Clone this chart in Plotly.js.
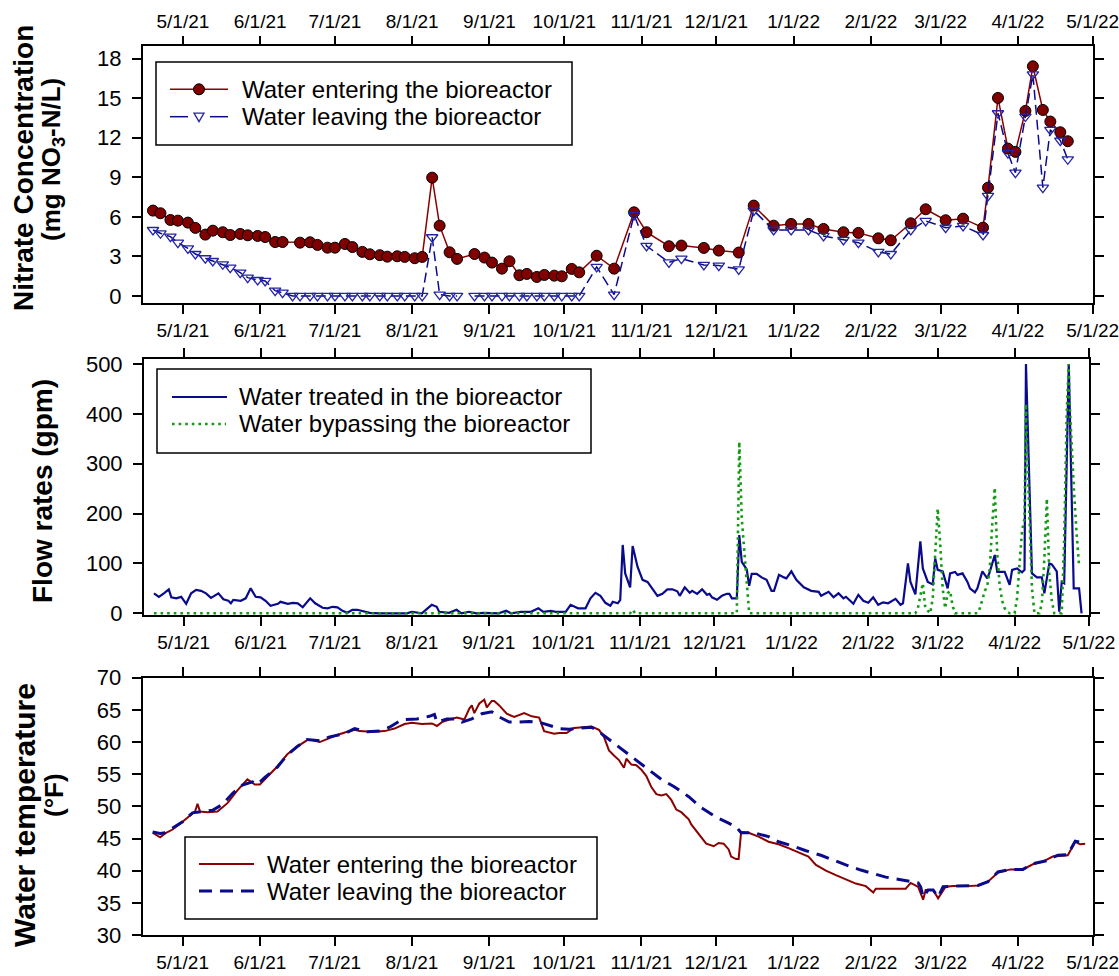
<!DOCTYPE html>
<html><head><meta charset="utf-8">
<script src="https://cdn.plot.ly/plotly-3.0.1.min.js"></script>
<style>html,body{margin:0;padding:0;background:#fff}</style>
</head><body><div id="chart" style="width:1119px;height:976px"></div>
<script>
// ---------- Panel 1: nitrate concentration (mg NO3-N/L) ----------
const nitrateInDates = ['2021-04-19','2021-04-22','2021-04-26','2021-04-29','2021-05-03','2021-05-06','2021-05-10','2021-05-13','2021-05-17','2021-05-20','2021-05-24','2021-05-27','2021-05-31','2021-06-03','2021-06-07','2021-06-10','2021-06-17','2021-06-21','2021-06-24','2021-06-28','2021-07-01','2021-07-05','2021-07-08','2021-07-12','2021-07-15','2021-07-19','2021-07-22','2021-07-26','2021-07-29','2021-08-02','2021-08-05','2021-08-09','2021-08-12','2021-08-16','2021-08-19','2021-08-26','2021-08-30','2021-09-02','2021-09-06','2021-09-09','2021-09-13','2021-09-16','2021-09-20','2021-09-23','2021-09-27','2021-09-30','2021-10-04','2021-10-07','2021-10-14','2021-10-21','2021-10-29','2021-11-03','2021-11-12','2021-11-17','2021-11-26','2021-12-02','2021-12-10','2021-12-16','2021-12-24','2021-12-31','2022-01-07','2022-01-13','2022-01-21','2022-01-27','2022-02-04','2022-02-09','2022-02-17','2022-02-23','2022-03-03','2022-03-10','2022-03-18','2022-03-20','2022-03-24','2022-03-28','2022-03-31','2022-04-04','2022-04-07','2022-04-11','2022-04-14','2022-04-18','2022-04-21'];
const nitrateIn = [6.47,6.27,5.76,5.71,5.56,5.16,4.65,4.95,4.83,4.62,4.70,4.60,4.55,4.47,4.09,4.09,4.04,4.07,3.87,3.66,3.66,3.94,3.71,3.34,3.16,3.09,2.98,3.01,2.96,2.86,2.96,8.97,5.33,3.31,2.81,3.18,2.91,2.53,2.07,2.63,1.57,1.67,1.44,1.59,1.54,1.49,2.05,1.79,3.05,2.07,6.34,4.83,3.77,3.82,3.64,3.44,3.29,6.85,5.33,5.46,5.46,5.08,4.83,4.78,4.37,4.22,5.51,6.57,5.74,5.86,5.18,8.21,15.01,11.17,10.92,14.03,17.41,14.10,13.22,12.41,11.73];

const nitrateOutDates = ['2021-04-19','2021-04-22','2021-04-26','2021-04-29','2021-05-03','2021-05-06','2021-05-10','2021-05-13','2021-05-17','2021-05-20','2021-05-24','2021-05-27','2021-05-31','2021-06-03','2021-06-07','2021-06-10','2021-06-14','2021-06-17','2021-06-21','2021-06-24','2021-06-28','2021-07-01','2021-07-05','2021-07-08','2021-07-12','2021-07-15','2021-07-19','2021-07-22','2021-07-26','2021-07-29','2021-08-02','2021-08-05','2021-08-09','2021-08-12','2021-08-16','2021-08-19','2021-08-23','2021-08-26','2021-08-30','2021-09-02','2021-09-06','2021-09-09','2021-09-13','2021-09-16','2021-09-20','2021-09-23','2021-09-27','2021-09-30','2021-10-04','2021-10-07','2021-10-14','2021-10-21','2021-10-29','2021-11-03','2021-11-12','2021-11-17','2021-11-26','2021-12-02','2021-12-10','2021-12-16','2021-12-24','2021-12-31','2022-01-07','2022-01-13','2022-01-21','2022-01-27','2022-02-04','2022-02-09','2022-02-17','2022-02-23','2022-03-03','2022-03-10','2022-03-18','2022-03-20','2022-03-24','2022-03-28','2022-03-31','2022-04-04','2022-04-07','2022-04-11','2022-04-14','2022-04-18','2022-04-21'];
const nitrateOut = [5.00,4.75,4.50,4.04,3.61,3.18,2.86,2.65,2.40,2.15,1.77,1.39,1.21,1.14,0.40,0.25,0,0,0,0,0,0,0,0,0,0,0,0,0,0,0,0,4.45,0.10,0,0,null,0,0,0,0,0,0,0,0,0,0,0,0,0,2.20,0.10,6.14,3.79,2.55,2.83,2.35,2.30,2.02,6.47,5.00,5.00,5.00,4.55,4.25,4.04,3.34,3.18,5.00,5.69,5.18,5.31,4.62,7.58,13.85,10.82,9.35,13.60,16.80,8.21,12.59,11.78,10.36];

// ---------- Panel 2: flow rates (gpm) ----------
const treatedDates = ['2021-04-19','2021-04-21','2021-04-23','2021-04-25','2021-04-26','2021-04-28','2021-04-30','2021-05-02','2021-05-04','2021-05-06','2021-05-08','2021-05-10','2021-05-12','2021-05-15','2021-05-17','2021-05-19','2021-05-20','2021-05-21','2021-05-24','2021-05-26','2021-05-28','2021-05-30','2021-06-01','2021-06-03','2021-06-05','2021-06-08','2021-06-09','2021-06-12','2021-06-14','2021-06-16','2021-06-18','2021-06-21','2021-06-23','2021-06-26','2021-06-28','2021-06-30','2021-07-02','2021-07-04','2021-07-06','2021-07-08','2021-07-10','2021-07-12','2021-07-15','2021-07-19','2021-07-24','2021-07-30','2021-08-01','2021-08-05','2021-08-09','2021-08-11','2021-08-12','2021-08-16','2021-08-19','2021-08-21','2021-08-24','2021-08-27','2021-08-30','2021-09-03','2021-09-05','2021-09-08','2021-09-10','2021-09-14','2021-09-18','2021-09-21','2021-09-23','2021-09-26','2021-09-28','2021-10-02','2021-10-04','2021-10-07','2021-10-10','2021-10-12','2021-10-14','2021-10-16','2021-10-18','2021-10-20','2021-10-21','2021-10-23','2021-10-24','2021-10-25','2021-10-26','2021-10-28','2021-10-29','2021-10-31','2021-11-02','2021-11-04','2021-11-06','2021-11-08','2021-11-10','2021-11-12','2021-11-14','2021-11-16','2021-11-17','2021-11-19','2021-11-21','2021-11-22','2021-11-24','2021-11-26','2021-11-28','2021-11-29','2021-11-30','2021-12-02','2021-12-04','2021-12-06','2021-12-07','2021-12-08','2021-12-10','2021-12-11','2021-12-12','2021-12-13','2021-12-14','2021-12-15','2021-12-16','2021-12-18','2021-12-20','2021-12-22','2021-12-24','2021-12-25','2021-12-27','2021-12-29','2021-12-30','2022-01-01','2022-01-03','2022-01-06','2022-01-09','2022-01-12','2022-01-13','2022-01-16','2022-01-18','2022-01-20','2022-01-22','2022-01-23','2022-01-26','2022-01-28','2022-01-30','2022-02-01','2022-02-03','2022-02-05','2022-02-07','2022-02-09','2022-02-12','2022-02-14','2022-02-15','2022-02-17','2022-02-18','2022-02-20','2022-02-22','2022-02-23','2022-02-25','2022-02-27','2022-02-28','2022-03-01','2022-03-03','2022-03-05','2022-03-06','2022-03-08','2022-03-09','2022-03-11','2022-03-13','2022-03-14','2022-03-16','2022-03-17','2022-03-19','2022-03-21','2022-03-22','2022-03-24','2022-03-25','2022-03-27','2022-03-28','2022-03-30','2022-03-31','2022-04-02','2022-04-04','2022-04-05','2022-04-05 14:00','2022-04-08','2022-04-10','2022-04-12','2022-04-13','2022-04-15','2022-04-16','2022-04-18','2022-04-19','2022-04-20','2022-04-21','2022-04-22 20:00','2022-04-24 20:00','2022-04-26','2022-04-27','2022-04-28'];
const treatedFlow = [40,33,40,48,32,30,33,19,40,47,45,40,31,40,28,25,20,27,25,30,50,33,32,25,15,19,23,19,21,20,12,30,20,11,10,13,12,5,1,7,7,5,1,0,0,0,3,0,17,13,3,1,7,0,3,0,1,0,0,5,0,3,3,10,3,5,3,3,17,10,10,30,41,35,21,15,23,20,27,137,80,52,135,93,67,63,50,35,39,48,48,44,35,52,41,45,39,48,37,39,32,27,35,39,39,30,30,157,103,94,88,55,79,79,72,67,45,45,77,72,70,84,67,52,45,43,35,43,32,40,30,33,19,37,25,21,32,17,22,20,29,17,20,100,63,38,144,90,63,58,110,87,84,50,80,83,77,80,63,50,42,50,84,70,83,117,83,83,83,57,87,90,82,87,500,80,72,72,40,100,98,84,3,63,60,500,50,50,50,0];

const bypassDates = ['2021-04-19','2021-10-28','2021-10-29','2021-10-30','2021-12-10','2021-12-11','2021-12-12','2021-12-13','2021-12-14','2021-12-15','2022-02-20','2022-02-21','2022-02-22','2022-02-23','2022-02-24','2022-02-26','2022-02-27','2022-02-28','2022-03-01','2022-03-02','2022-03-03','2022-03-04','2022-03-05','2022-03-06','2022-03-07','2022-03-08','2022-03-17','2022-03-18','2022-03-19','2022-03-20','2022-03-21','2022-03-22','2022-03-23','2022-03-24','2022-03-25','2022-03-26','2022-03-27','2022-03-28','2022-03-29','2022-03-30','2022-04-01','2022-04-02','2022-04-03','2022-04-04','2022-04-05','2022-04-05 14:00','2022-04-06','2022-04-07','2022-04-08','2022-04-09','2022-04-11','2022-04-12','2022-04-13','2022-04-14','2022-04-15','2022-04-16','2022-04-17','2022-04-20','2022-04-21','2022-04-22','2022-04-22 20:00','2022-04-23','2022-04-24','2022-04-25','2022-04-26','2022-04-27'];
const bypassFlow = [0,0,7,0,0,344,190,120,55,0,0,10,35,60,10,0,30,110,210,140,50,10,40,45,15,0,0,10,30,45,55,90,180,252,120,55,25,10,3,0,0,30,100,165,190,420,330,184,50,0,0,20,110,230,80,25,0,0,150,400,500,440,330,240,160,95];

// ---------- Panel 3: water temperature (°F) ----------
const tempInDates = ['2021-04-19','2021-04-22','2021-04-24','2021-04-27','2021-04-30','2021-05-02','2021-05-05','2021-05-06','2021-05-07','2021-05-08','2021-05-11','2021-05-15','2021-05-19','2021-05-23','2021-05-27','2021-05-30','2021-06-01','2021-06-04','2021-06-08','2021-06-12','2021-06-16','2021-06-20','2021-06-22','2021-06-25','2021-06-28','2021-07-02','2021-07-06','2021-07-09','2021-07-11','2021-07-16','2021-07-21','2021-07-25','2021-07-29','2021-08-01','2021-08-05','2021-08-09','2021-08-11','2021-08-13','2021-08-16','2021-08-19','2021-08-22','2021-08-24','2021-08-25','2021-08-26','2021-08-28','2021-08-30','2021-08-31','2021-09-02','2021-09-03','2021-09-05','2021-09-08','2021-09-11','2021-09-15','2021-09-18','2021-09-21','2021-09-23','2021-09-27','2021-09-29','2021-10-02','2021-10-05','2021-10-12','2021-10-15','2021-10-17','2021-10-19','2021-10-21','2021-10-23','2021-10-25','2021-10-26','2021-10-28','2021-10-30','2021-11-01','2021-11-03','2021-11-05','2021-11-07','2021-11-09','2021-11-11','2021-11-13','2021-11-15','2021-11-17','2021-11-20','2021-11-21','2021-11-23','2021-11-25','2021-11-27','2021-11-30','2021-12-02','2021-12-04','2021-12-06','2021-12-07','2021-12-09','2021-12-10','2021-12-11','2021-12-14','2021-12-18','2021-12-22','2021-12-26','2021-12-30','2022-01-03','2022-01-07','2022-01-10','2022-01-14','2022-01-18','2022-01-22','2022-01-26','2022-01-30','2022-02-02','2022-02-03','2022-02-07','2022-02-11','2022-02-15','2022-02-17','2022-02-20','2022-02-22','2022-02-23','2022-02-26','2022-02-28','2022-03-03','2022-03-06','2022-03-12','2022-03-16','2022-03-20','2022-03-24','2022-03-29','2022-04-03','2022-04-07','2022-04-11','2022-04-15','2022-04-21','2022-04-24','2022-04-26','2022-04-28'];
const tempIn = [45.9,45.2,45.8,46.4,47.3,48.0,48.9,49.2,50.4,49.2,49.1,49.2,50.5,52.5,54.2,53.4,53.4,54.6,56.2,58.1,59.3,60.3,60.3,60.0,60.5,61.1,61.6,61.9,61.7,61.6,61.7,62.1,62.8,63.0,62.8,62.9,62.5,63.1,63.5,63.8,63.5,65.2,65.7,64.5,66.0,66.6,65.4,66.4,66.4,65.7,64.4,63.9,64.5,64.0,63.8,61.7,61.3,61.4,61.4,62.2,62.4,61.9,60.8,58.7,57.9,57.2,56.0,57.4,56.5,56.4,55.7,54.7,53.0,51.9,51.7,51.9,51.0,49.5,49.1,48.0,47.2,46.2,45.3,44.2,43.8,44.3,44.2,43.3,42.2,41.8,41.8,46.0,45.9,45.3,44.5,44.1,43.5,42.9,42.2,40.9,40.0,39.3,38.6,38.0,37.6,36.6,37.2,37.2,37.2,37.2,38.1,37.5,35.5,37.0,37.0,35.7,37.5,37.6,37.6,37.7,38.3,39.7,40.2,40.2,41.0,41.4,42.2,42.4,44.5,44.1,44.2];

const tempOutDates = ['2021-04-19','2021-04-22','2021-04-24','2021-04-27','2021-05-01','2021-05-05','2021-05-09','2021-05-13','2021-05-17','2021-05-21','2021-05-25','2021-05-29','2021-05-31','2021-06-03','2021-06-08','2021-06-12','2021-06-16','2021-06-20','2021-06-25','2021-06-29','2021-07-05','2021-07-09','2021-07-14','2021-07-19','2021-07-23','2021-07-28','2021-08-03','2021-08-08','2021-08-10','2021-08-11','2021-08-15','2021-08-18','2021-08-21','2021-08-25','2021-08-29','2021-09-02','2021-09-05','2021-09-09','2021-09-13','2021-09-17','2021-09-21','2021-09-25','2021-09-29','2021-10-03','2021-10-07','2021-10-12','2021-10-15','2021-10-21','2021-10-27','2021-10-31','2021-11-05','2021-11-09','2021-11-14','2021-11-20','2021-11-25','2021-12-01','2021-12-06','2021-12-09','2021-12-11','2021-12-16','2021-12-22','2021-12-26','2022-01-01','2022-01-06','2022-01-12','2022-01-17','2022-01-22','2022-01-28','2022-02-02','2022-02-07','2022-02-13','2022-02-17','2022-02-20','2022-02-21','2022-02-22','2022-02-24','2022-02-26','2022-02-28','2022-03-02','2022-03-06','2022-03-16','2022-03-20','2022-03-24','2022-03-29','2022-04-03','2022-04-07','2022-04-12','2022-04-17','2022-04-21','2022-04-24','2022-04-26','2022-04-28'];
const tempOut = [46.0,45.8,45.9,46.6,47.6,49.0,49.2,49.4,50.3,52.0,53.3,53.8,53.4,54.5,56.1,58.0,59.3,60.4,60.2,60.8,61.3,62.1,61.6,61.7,62.3,63.5,63.6,64.0,64.3,63.1,63.6,63.6,63.1,63.6,64.4,64.7,63.9,63.1,63.1,63.2,63.1,62.6,62.1,62.0,62.1,62.3,61.6,59.8,58.0,56.8,55.4,54.2,53.1,51.5,49.8,48.3,47.4,46.8,45.9,45.9,45.3,44.5,43.8,43.1,42.4,41.6,40.9,40.1,39.5,39.0,38.6,38.3,38.1,37.5,35.9,37.0,37.0,35.9,37.5,37.6,37.7,38.3,39.8,40.2,40.2,41.1,41.5,42.4,42.5,44.6,44.5,44.3];

// ---------- axis ticks and text ----------
const tickDates = ['2021-05-01','2021-06-01','2021-07-01','2021-08-01','2021-09-01','2021-10-01','2021-11-01','2021-12-01','2022-01-01','2022-02-01','2022-03-01','2022-04-01','2022-05-01'];
const tickLabels = ['5/1/21','6/1/21','7/1/21','8/1/21','9/1/21','10/1/21','11/1/21','12/1/21','1/1/22','2/1/22','3/1/22','4/1/22','5/1/22'];
const seriesNames = ['Water entering the bioreactor', 'Water leaving the bioreactor',
                     'Water treated in the bioreactor', 'Water bypassing the bioreactor'];
const titleLines = [['Nitrate Concentration', '(mg NO<sub>3</sub>-N/L)'], ['Flow rates (gpm)'], ['Water temperature', '(°F)']];
const xRange = ['2021-04-15', '2022-05-01'];

const RED = '#8b0000', MAROON = '#800000', NAVY = '#0a0a8c', TRI = '#2424a8', GREEN = '#129a12';
const FONT = 'Liberation Sans, Arial, sans-serif';
const W = 1119, H = 976;
const px = v => v / W, py = v => 1 - v / H;

const traces = [
  {x: nitrateInDates, y: nitrateIn, name: seriesNames[0], mode: 'lines+markers', xaxis: 'x', yaxis: 'y',
   line: {color: RED, width: 1.5}, marker: {symbol: 'circle', size: 11, color: MAROON, line: {color: '#000', width: 1}}},
  {x: nitrateOutDates, y: nitrateOut, name: seriesNames[1], mode: 'lines+markers', xaxis: 'x', yaxis: 'y',
   connectgaps: false, line: {color: NAVY, width: 1.5, dash: '10px,5px'},
   marker: {symbol: 'triangle-down-open', size: 10, color: TRI, line: {width: 1.3}}},
  {x: nitrateInDates, y: nitrateIn, xaxis: 'x4', yaxis: 'y', mode: 'markers', marker: {opacity: 0}, showlegend: false, hoverinfo: 'skip'},
  {x: treatedDates, y: treatedFlow, name: seriesNames[2], mode: 'lines', xaxis: 'x2', yaxis: 'y2',
   line: {color: NAVY, width: 2.2}},
  {x: bypassDates, y: bypassFlow, name: seriesNames[3], mode: 'lines', xaxis: 'x2', yaxis: 'y2',
   line: {color: GREEN, width: 2.6, dash: '2.6px,4px'}},
  {x: tempInDates, y: tempIn, name: seriesNames[0], mode: 'lines', xaxis: 'x3', yaxis: 'y3',
   line: {color: RED, width: 2}},
  {x: tempOutDates, y: tempOut, name: seriesNames[1], mode: 'lines', xaxis: 'x3', yaxis: 'y3',
   line: {color: NAVY, width: 3, dash: '13px,8px'}}
];

function xAxis(domain, anchor, extra) {
  return Object.assign({
    domain: domain, anchor: anchor, type: 'date', range: xRange,
    tickmode: 'array', tickvals: tickDates, ticktext: tickLabels, ticklabeloverflow: 'allow',
    ticks: 'outside', ticklen: 9, tickwidth: 2, tickcolor: '#000',
    showline: true, linewidth: 2, linecolor: '#000', mirror: 'ticks',
    showgrid: false, zeroline: false, tickfont: {family: FONT, size: 19, color: '#000'}
  }, extra || {});
}
function yAxis(domain, anchor, range, dtick) {
  return {
    domain: domain, anchor: anchor, range: range, dtick: dtick, tick0: 0,
    ticks: 'outside', ticklen: 9, tickwidth: 2, tickcolor: '#000', ticklabelstandoff: 6,
    showline: true, linewidth: 2, linecolor: '#000', mirror: 'ticks',
    showgrid: false, zeroline: false, tickfont: {family: FONT, size: 22, color: '#000'}
  };
}

// ----- legends (box, sample line, marker, label), placed in page pixels -----
const shapes = [], annotations = [];
function legendBox(x0, x1, y0, y1) {
  shapes.push({type: 'rect', xref: 'paper', yref: 'paper', x0: px(x0), x1: px(x1), y0: py(y1), y1: py(y0),
               line: {color: '#000', width: 1.5}, fillcolor: '#fff', layer: 'above'});
}
function legendLine(x0, x1, y, line) {
  shapes.push({type: 'line', xref: 'paper', yref: 'paper', x0: px(x0), x1: px(x1), y0: py(y), y1: py(y), line: line, layer: 'above'});
}
function legendText(x, y, text) {
  annotations.push({xref: 'paper', yref: 'paper', x: px(x), y: py(y), xanchor: 'left', yanchor: 'middle',
                    text: text, showarrow: false, font: {family: FONT, size: 24, color: '#000'}});
}
// panel 1
legendBox(156, 572, 62, 145);
legendLine(170, 228, 89.3, {color: RED, width: 1.5});
shapes.push({type: 'circle', xref: 'paper', yref: 'paper', xsizemode: 'pixel', ysizemode: 'pixel',
             xanchor: px(199), yanchor: py(89.3), x0: -5.5, x1: 5.5, y0: -5.5, y1: 5.5,
             fillcolor: MAROON, line: {color: '#000', width: 1}, layer: 'above'});
legendText(240, 89.3, seriesNames[0]);
legendLine(170, 188, 116.7, {color: NAVY, width: 1.5});
legendLine(210, 228, 116.7, {color: NAVY, width: 1.5});
shapes.push({type: 'path', xref: 'paper', yref: 'paper', xsizemode: 'pixel', ysizemode: 'pixel',
             xanchor: px(199), yanchor: py(116.7), path: 'M-5,3.5 L5,3.5 L0,-5 Z',
             line: {color: TRI, width: 1.3}, layer: 'above'});
legendText(240, 116.7, seriesNames[1]);
// panel 2
legendBox(157, 591, 369, 453);
legendLine(172, 227, 397, {color: NAVY, width: 2.2});
legendText(237, 397, seriesNames[2]);
legendLine(172, 226, 424, {color: GREEN, width: 2.6, dash: '2.6px,4px'});
legendText(237, 424, seriesNames[3]);
// panel 3
legendBox(185, 597, 837, 919);
legendLine(199, 254, 864, {color: RED, width: 2});
legendText(265, 864, seriesNames[0]);
legendLine(199, 254, 891, {color: NAVY, width: 3, dash: '13px,8px'});
legendText(265, 891, seriesNames[1]);

// ----- y-axis titles (rotated lines) -----
function yTitle(x, y, text, size) {
  annotations.push({xref: 'paper', yref: 'paper', x: px(x), y: py(y), xanchor: 'center', yanchor: 'middle',
                    textangle: -90, text: text, showarrow: false,
                    font: {family: FONT, size: size, color: '#000', weight: 'bold'}});
}
yTitle(24, 168, titleLines[0][0], 28);
yTitle(53, 160, titleLines[0][1], 26);
yTitle(43, 491, titleLines[1][0], 28);
yTitle(24, 815, titleLines[2][0], 30);
yTitle(54, 795, titleLines[2][1], 26);

const layout = {
  width: W, height: H, margin: {l: 0, r: 0, t: 0, b: 0},
  paper_bgcolor: '#fff', plot_bgcolor: '#fff', font: {family: FONT, color: '#000'},
  showlegend: false, hovermode: false,
  xaxis: xAxis([0.1278, 0.9765], 'y', {mirror: true}),
  xaxis4: xAxis([0.1278, 0.9765], 'y', {overlaying: 'x', side: 'top', showline: false, mirror: false}),
  xaxis2: xAxis([0.1287, 0.9732], 'y2'),
  xaxis3: xAxis([0.1275, 0.9765], 'y3'),
  yaxis: yAxis([0.6896, 0.9533], 'x', [-0.53, 18.98], 3),
  yaxis2: yAxis([0.3699, 0.6322], 'x2', [-3.4, 510], 100),
  yaxis3: yAxis([0.0420, 0.3056], 'x3', [30, 70], 5),
  shapes: shapes, annotations: annotations
};

Plotly.newPlot('chart', traces, layout, {displayModeBar: false, staticPlot: true});
</script></body></html>
